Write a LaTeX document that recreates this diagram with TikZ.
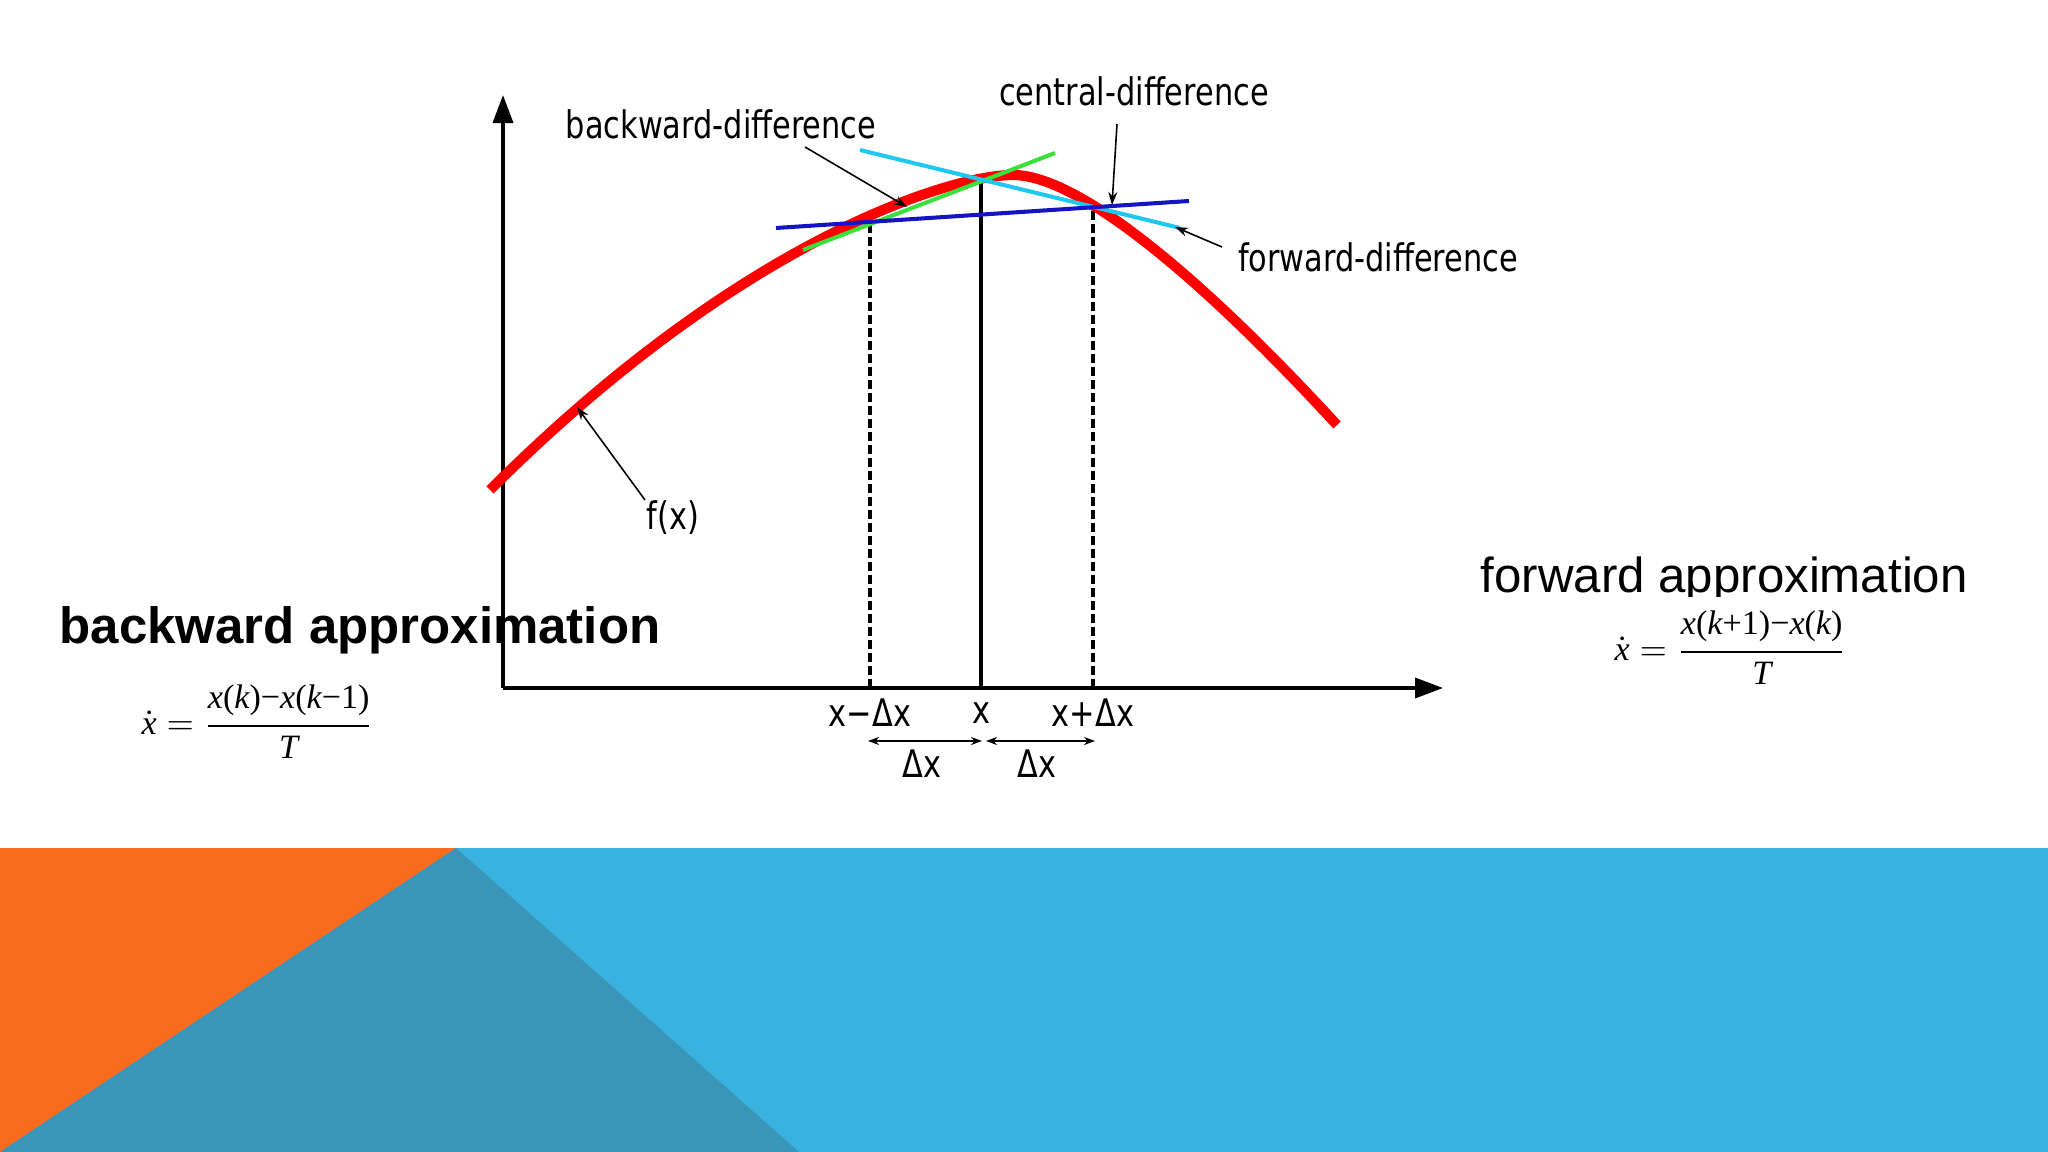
\documentclass[tikz,border=0pt]{standalone}
\usepackage{amsmath}
\usepackage{fontspec}
\setmainfont{Liberation Sans}
\newfontfamily\chartfont[FakeStretch=0.8]{DejaVu Sans}
\newfontfamily\eqfont{Liberation Serif}
\usetikzlibrary{arrows.meta}

\definecolor{curvered}{HTML}{FF0000}
\definecolor{backgreen}{HTML}{3CE03C}
\definecolor{forwardcyan}{HTML}{1EC8F0}
\definecolor{centralblue}{HTML}{1414C4}
\definecolor{bandorange}{HTML}{F96B1D}
\definecolor{bandteal}{HTML}{3A96B8}
\definecolor{bandblue}{HTML}{3AB2E0}

% letters of the two formulas
\newcommand{\mvar}[1]{\mbox{\eqfont\itshape #1}}
\newcommand{\mup}[1]{\mbox{\eqfont #1}}
\newcommand{\eqfrac}[2]{\genfrac{}{}{0.8pt}{0}{#1}{#2}}

\tikzset{
  lbl/.style={font=\chartfont\fontsize{10.8}{13}\selectfont, inner sep=1pt},
  pointer/.style={line width=0.45pt, -{Stealth[length=0.13cm,width=0.09cm]}},
  axis/.style={line width=1pt, -{Triangle[length=0.28cm,width=0.2cm]}},
  span/.style={line width=0.55pt, {Stealth[length=0.11cm,width=0.08cm]}-{Stealth[length=0.11cm,width=0.08cm]}},
  tangent/.style={line width=1.15pt},
  formula/.style={font=\fontsize{9.7}{12}\selectfont, inner sep=0pt, anchor=west}
}

\begin{document}
\begin{tikzpicture}[x=0.01cm,y=-0.01cm]
\useasboundingbox (0,0) rectangle (2048,1152);

% The coloured band at the bottom
\fill[bandblue] (0,848) rectangle (2048,1152);
\fill[bandorange] (0,848) -- (456,848) -- (0,1152) -- cycle;
\fill[bandteal] (456,848) -- (0,1152) -- (799,1152) -- cycle;

% The axes
\coordinate (o) at (503,688);
\coordinate (ytip) at (503,95);
\coordinate (xtip) at (1443,688);
\draw[axis] (o) -- (ytip);
\draw[axis] (o) -- (xtip);

% The three sample points
\coordinate (xl) at (870,688);
\coordinate (xm) at (981,688);
\coordinate (xr) at (1093,688);
\coordinate (xltop) at (870,222);
\coordinate (xmtop) at (981,180);
\coordinate (xrtop) at (1093,206);
\draw[line width=0.9pt,dash pattern=on 0.09cm off 0.04cm] (xl) -- (xltop);
\draw[line width=0.9pt] (xm) -- (xmtop);
\draw[line width=0.9pt,dash pattern=on 0.09cm off 0.04cm] (xr) -- (xrtop);

% The function f(x)
\coordinate (fstart) at (490,490);
\coordinate (fpeak) at (1013,175);
\coordinate (fend) at (1337,425);
\draw[curvered,line width=2.9pt,line cap=butt] (fstart)
  .. controls (740,240) and (950,175) .. (fpeak)
  .. controls (1073,175) and (1187,262) .. (fend);

% The three difference lines
\draw[tangent,backgreen] (803,250) -- (1055,153);
\draw[tangent,forwardcyan] (860,150) -- (1180,228);
\draw[tangent,centralblue] (776,228) -- (1189,201);

% Labels with their pointers
\node[lbl] (bd) at (721,124) {backward-difference};
\node[lbl] (cd) at (1134,91) {central-difference};
\node[lbl] (fd) at (1378,257) {forward-difference};
\node[lbl] (fx) at (673,518) {f(x)};
\coordinate (bdtail) at (805,147);
\coordinate (bdtip) at (907,207);
\coordinate (cdtail) at (1117,124);
\coordinate (cdtip) at (1112,205);
\coordinate (fdtail) at (1222,247);
\coordinate (fdtip) at (1175,227);
\coordinate (fxtail) at (645,500);
\coordinate (fxtip) at (577,407);
\draw[pointer] (bdtail) -- (bdtip);
\draw[pointer] (cdtail) -- (cdtip);
\draw[pointer] (fdtail) -- (fdtip);
\draw[pointer] (fxtail) -- (fxtip);

% Tick labels and the two steps
\node[lbl] (lxl) at (870,713) {x−Δx};
\node[lbl] (lxm) at (981,713) {x};
\node[lbl] (lxr) at (1093,713) {x+Δx};
\coordinate (sl) at (868,741);
\coordinate (sml) at (982,741);
\coordinate (smr) at (986,741);
\coordinate (sr) at (1095,741);
\draw[span] (sl) -- (sml);
\draw[span] (smr) -- (sr);
\node[lbl] (dxl) at (922,764) {Δx};
\node[lbl] (dxr) at (1037,764) {Δx};

% Backward approximation
\node[font=\bfseries\fontsize{14.5}{17}\selectfont, anchor=base west, inner sep=0pt] (bt) at (59,643) {backward approximation};
\node[formula] (bf) at (141,722) {$\displaystyle\dot{\mvar{x}}=
  \eqfrac{\mvar{x}\mup{(}\mvar{k}\mup{)−}\mvar{x}\mup{(}\mvar{k}\mup{−1)}}{\mvar{T}}$};

% Forward approximation
\node[font=\fontsize{14}{17}\selectfont, anchor=base west, inner sep=0pt] (ft) at (1480,593) {forward approximation};
\fill[white] (1470,597) rectangle (1990,612);
\node[formula] (ff) at (1614,648) {$\displaystyle\dot{\mvar{x}}=
  \eqfrac{\mvar{x}\mup{(}\mvar{k}\mup{+1)−}\mvar{x}\mup{(}\mvar{k}\mup{)}}{\mvar{T}}$};

\end{tikzpicture}
\end{document}
